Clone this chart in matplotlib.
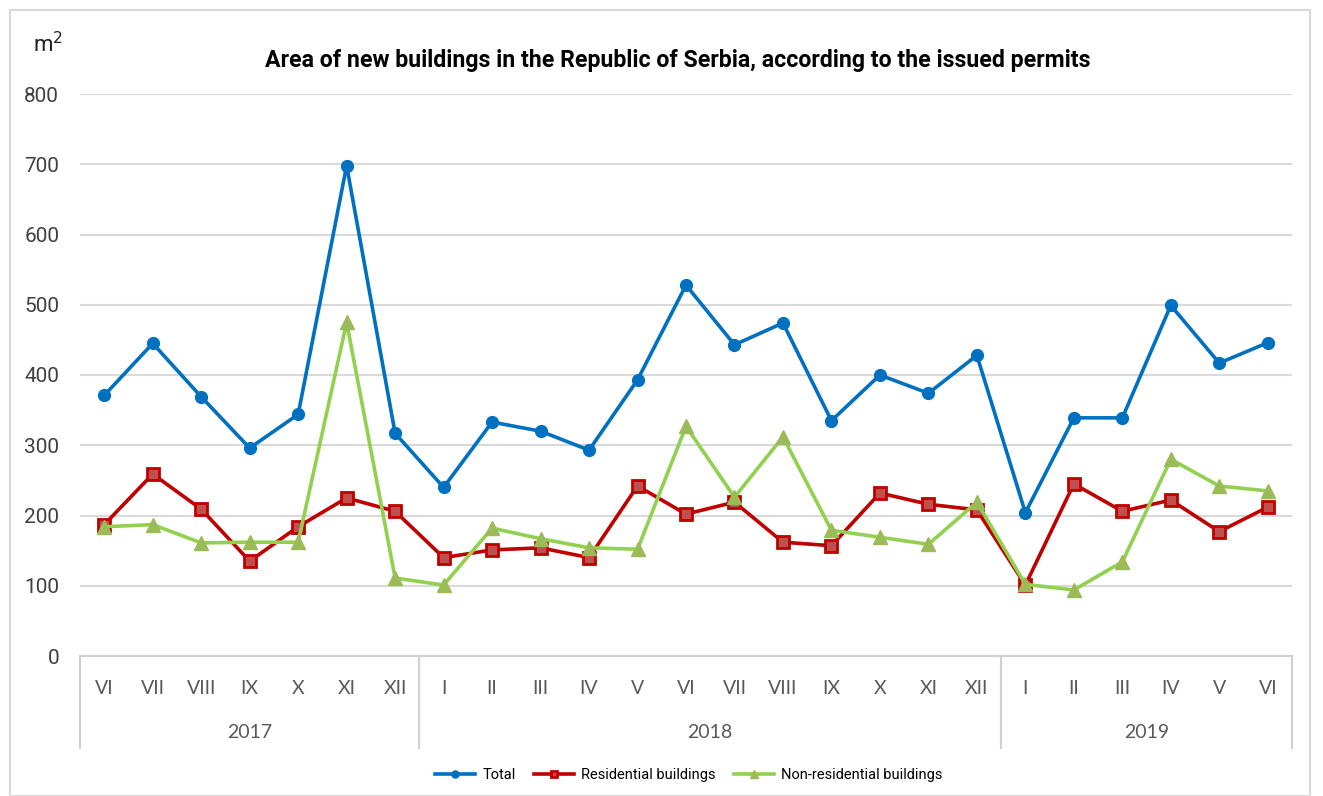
import matplotlib
matplotlib.use("Agg")
import matplotlib.pyplot as plt
from matplotlib.lines import Line2D
import matplotlib.transforms as mtransforms
from matplotlib.patches import Rectangle

months = ["VI", "VII", "VIII", "IX", "X", "XI", "XII",
          "I", "II", "III", "IV", "V", "VI", "VII", "VIII", "IX", "X", "XI", "XII",
          "I", "II", "III", "IV", "V", "VI"]
years = ["2017", "2018", "2019"]
year_counts = [7, 12, 6]

total = [371, 445, 369, 296, 344, 698, 317, 240, 333, 320, 293, 393, 528, 443, 474,
         335, 400, 374, 428, 204, 339, 339, 499, 417, 446]
residential = [187, 259, 209, 135, 184, 225, 206, 140, 151, 154, 140, 242, 202, 219, 162,
               157, 232, 216, 208, 101, 245, 206, 222, 177, 212]
nonresidential = [184, 187, 161, 162, 162, 475, 111, 101, 182, 167, 154, 152, 327, 226, 312,
                  179, 169, 159, 219, 102, 94, 134, 280, 242, 235]

W, H = 1323, 796
fig = plt.figure(figsize=(W / 100, H / 100), dpi=100)
fig.patches.append(Rectangle((10 / W, 0), 1300 / W, 1 - 10 / H, transform=fig.transFigure,
                             fill=False, edgecolor="#D9D9D9", lw=1.5))

ax = fig.add_axes([80 / W, 1 - 656 / H, (1292 - 80) / W, (656 - 94) / H])
x = list(range(len(months)))

ax.plot(x, total, color="#0070C0", lw=2.6, marker="o", ms=8.5, mfc="#0070C0", mec="#0070C0",
        label="Total", zorder=4)
ax.plot(x, residential, color="#C00000", lw=2.6, marker="s", ms=8, mfc="#C0504D", mec="#C00000",
        mew=2, label="Residential buildings", zorder=3)
ax.plot(x, nonresidential, color="#92D050", lw=2.6, marker="^", ms=10, mfc="#9BBB59", mec="#9BBB59",
        label="Non-residential buildings", zorder=5)

ax.set_xlim(-0.5, len(months) - 0.5)
ax.set_ylim(0, 800)
ax.set_yticks(range(0, 801, 100))
ax.yaxis.grid(True, color="#D9D9D9", lw=1.5)
ax.set_axisbelow(True)
for s in ["top", "right", "left"]:
    ax.spines[s].set_visible(False)
ax.spines["bottom"].set_color("#D0D0D0")
ax.spines["bottom"].set_linewidth(1.5)
ax.tick_params(axis="y", length=0, pad=15, labelsize=15, labelcolor="#404040")
ax.tick_params(axis="x", length=0, pad=17, labelsize=14, labelcolor="#595959")
ax.set_xticks(x)
ax.set_xticklabels(months, fontfamily="Lato")
for lab in ax.get_yticklabels():
    lab.set_fontfamily("Roboto")

trans = mtransforms.blended_transform_factory(ax.transData, ax.transAxes)
box_bottom = -(748 - 656) / (656 - 94)
bounds = [-0.5]
for c in year_counts:
    bounds.append(bounds[-1] + c)
for b in bounds:
    ax.add_line(Line2D([b, b], [0, box_bottom], transform=trans, color="#D0D0D0", lw=1.5,
                       clip_on=False))
for i, yl in enumerate(years):
    cx = (bounds[i] + bounds[i + 1]) / 2
    ax.text(cx, -(733 - 656) / (656 - 94), yl, transform=trans, ha="center", va="center",
            fontsize=14, color="#595959", fontfamily="Lato")

fig.text(678 / W, 1 - 60 / H,
         "Area of new buildings in the Republic of Serbia, according to the issued permits",
         ha="center", va="center", fontsize=16.7, fontweight="bold", fontfamily="Roboto")
fig.text(48 / W, 1 - 45 / H, "m$^2$", ha="center", va="center", fontsize=16,
         fontfamily="Roboto", color="#222222")

leg = fig.legend(loc="center", bbox_to_anchor=(689 / W, 1 - 775 / H), ncol=3, frameon=False,
                 markerscale=0.6, handlelength=2.7, columnspacing=1.3, handletextpad=0.5,
                 prop={"family": "Roboto", "size": 10.5})

fig.savefig("out.png", dpi=100)
